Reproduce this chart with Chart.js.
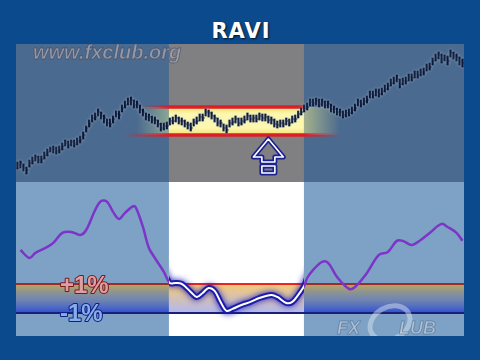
<!DOCTYPE html>
<html>
<head>
<meta charset="utf-8">
<script src="https://cdn.jsdelivr.net/npm/chart.js@4.4.1/dist/chart.umd.min.js"></script>
<style>
body { margin:0; width:480px; height:360px; background:#0c4a8e; overflow:hidden; position:relative; }
#title { position:absolute; left:0; width:482px; top:21px; text-align:center; color:#fff; font:bold 21px/21px "DejaVu Sans", sans-serif; letter-spacing:1px; text-shadow:1px 1px 2px rgba(0,0,0,.8); }
#price { position:absolute; left:16px; top:44px; }
#ravi { position:absolute; left:16px; top:182px; }
#site { position:absolute; left:33px; top:42px; font:italic bold 20px/20px "Liberation Sans", sans-serif; color:rgba(165,165,175,.8); -webkit-text-stroke:0.8px rgba(70,75,95,.7); }
</style>
</head>
<body>
<div id="title">RAVI</div>
<canvas id="price" width="448" height="138"></canvas>
<canvas id="ravi" width="448" height="154"></canvas>
<div id="site">www.fxclub.org</div>
<script>
// price bars, in points above the bottom of the price panel
const highs = [20,21,18,15,22,25,27,26,26,30, 33,35,36,35,36,39,42,41,42,42,
  44,46,50,56,62,67,69,73,70,67, 63,63,66,71,71,77,81,84,85,82,
  81,77,73,69,68,66,65,62,59,59, 60,64,65,67,65,64,62,60,59,63,
  65,68,68,73,72,70,67,64,62,58, 57,62,64,66,64,64,66,69,67,67,
  67,69,68,68,66,65,63,61,62,62, 64,63,66,67,71,74,77,79,83,83,
  84,83,83,81,81,78,76,74,73,71, 72,73,75,78,83,82,84,86,91,91,
  93,93,94,97,99,103,105,107,103,104, 105,108,108,111,111,113,114,118,119,124,
  128,130,128,127,126,132,130,128,125,123];
const lows = [13,14,11,8,15,18,21,19,19,23, 26,30,29,28,29,32,36,34,36,35,
  37,39,43,50,55,60,62,66,63,59, 56,55,59,65,63,70,74,77,77,74,
  74,69,66,62,61,59,58,55,51,52, 53,57,58,60,58,57,55,53,51,56,
  58,61,61,66,65,63,60,56,55,51, 49,55,57,59,56,57,59,62,60,60,
  60,62,61,61,59,58,55,54,55,55, 57,56,59,60,64,67,70,72,76,76,
  77,75,76,74,74,70,69,67,66,64, 65,66,68,71,76,75,77,79,84,84,
  86,85,87,90,92,96,98,100,94,97, 98,101,101,104,104,106,107,111,112,117,
  121,123,119,121,117,125,123,121,117,115];
const closes = [17,19,14,12,19,21,25,22,23,27, 30,33,33,31,32,36,39,37,40,38,
  41,42,47,54,58,64,65,70,66,64, 59,58,63,68,67,74,77,81,82,77,
  78,72,70,65,65,62,62,58,54,56, 56,61,61,64,61,61,58,57,54,60,
  61,65,64,70,69,66,64,59,59,54, 52,59,60,63,59,61,62,66,63,64,
  63,66,64,65,62,62,58,57,59,58, 61,59,63,63,68,70,74,75,80,79,
  81,78,80,77,78,73,73,70,70,67, 69,69,72,74,80,78,81,82,88,87,
  90,88,91,93,96,99,102,103,98,101, 101,105,104,108,107,110,110,115,115,121,
  124,127,123,124,121,129,126,125,120,119];

// RAVI, read where the curve bends
const raviDays = [1,4,6,10,12,15,18,21,23,26, 28,30,32,34,36,39,40,42,44,46,
  49,51,53,55,58,60,62,64,66,68, 70,72,75,78,81,85,87,90,92,94,
  96,97,99,102,104,107,111,113,117,121, 124,127,129,132,135,138,142,144,147,149];
const raviValues = [3.34,2.79,3.14,3.55,3.83,4.52,4.59,4.38,4.72,6.10,
  6.72,6.66,5.97,5.48,5.90,6.38,6.10,4.93,3.48,2.79,
  1.83,1.07,1.07,1.00,0.45,0.10,0.38,0.72,0.52,-0.24,
  -0.86,-0.72,-0.45,-0.24,0.03,0.24,0.10,-0.31,-0.24,0.24,
  0.86,1.41,1.97,2.52,2.45,1.48,0.66,0.79,1.76,3.00,
  3.21,3.97,3.97,3.69,4.03,4.52,5.14,4.93,4.52,3.97];

// flat period: RAVI stays inside the +/-1% channel
const bandStart = 50.7, bandEnd = 95.9;
const rangeHigh = 75, rangeLow = 47;
const upperLevel = 1, lowerLevel = -1;
const arrowDay = 84, arrowPrice = 26;

const days = closes.map((c, i) => i);
const navy = '#0b1838';

const xAxis = { type: 'linear', min: -0.5, max: 149.5, offset: false, display: false };
const layout = { padding: 0, autoPadding: false };

const priceBg = {
  id: 'priceBg',
  beforeDatasetsDraw(chart) {
    const { ctx, chartArea: a, scales: { x, y } } = chart;
    const b0 = x.getPixelForValue(bandStart), b1 = x.getPixelForValue(bandEnd);
    const yh = y.getPixelForValue(rangeHigh), yl = y.getPixelForValue(rangeLow);
    ctx.save();
    ctx.fillStyle = '#4b6a8f';
    ctx.fillRect(a.left, a.top, a.width, a.height);
    ctx.fillStyle = '#808083';
    ctx.fillRect(b0, a.top, b1 - b0, a.height);

    // glow going into and out of the range box
    let g = ctx.createLinearGradient(b0 - 32, 0, b0, 0);
    g.addColorStop(0, 'rgba(190,215,150,0)');
    g.addColorStop(1, 'rgba(190,215,150,0.55)');
    ctx.fillStyle = g;
    ctx.fillRect(b0 - 32, yh, 32, yl - yh);
    g = ctx.createLinearGradient(b1, 0, b1 + 36, 0);
    g.addColorStop(0, 'rgba(225,225,140,0.6)');
    g.addColorStop(1, 'rgba(225,225,140,0)');
    ctx.fillStyle = g;
    ctx.fillRect(b1, yh, 36, yl - yh);
    g = ctx.createLinearGradient(0, yh, 0, yl);
    g.addColorStop(0, '#f3df6a');
    g.addColorStop(0.25, '#fdf7b0');
    g.addColorStop(0.75, '#fdf7b0');
    g.addColorStop(1, '#f3df6a');
    ctx.fillStyle = g;
    ctx.fillRect(b0, yh, b1 - b0, yl - yh);

    // red range lines
    ctx.lineWidth = 3.5;
    g = ctx.createLinearGradient(b0 - 26, 0, b1, 0);
    g.addColorStop(0, 'rgba(220,30,40,0)');
    g.addColorStop(26 / (b1 - b0 + 26), 'rgba(220,30,40,1)');
    g.addColorStop(1, 'rgba(220,30,40,1)');
    ctx.strokeStyle = g;
    ctx.beginPath(); ctx.moveTo(b0 - 26, yh); ctx.lineTo(b1, yh); ctx.stroke();
    g = ctx.createLinearGradient(b0 - 46, 0, b1 + 36, 0);
    const w = b1 - b0 + 82;
    g.addColorStop(0, 'rgba(220,30,40,0)');
    g.addColorStop(46 / w, 'rgba(220,30,40,1)');
    g.addColorStop((w - 36) / w, 'rgba(220,30,40,1)');
    g.addColorStop(1, 'rgba(220,30,40,0)');
    ctx.strokeStyle = g;
    ctx.beginPath(); ctx.moveTo(b0 - 46, yl); ctx.lineTo(b1 + 36, yl); ctx.stroke();
    ctx.restore();

    // light halo round the bars
    ctx.save();
    ctx.shadowColor = 'rgba(200,215,235,0.6)';
    ctx.shadowBlur = 3;
  },
  afterDatasetsDraw(chart) {
    const { ctx, scales: { x, y } } = chart;
    ctx.restore();
    const cx = x.getPixelForValue(arrowDay), cy = y.getPixelForValue(arrowPrice);
    ctx.save();
    ctx.lineJoin = 'round';
    ctx.beginPath();
    ctx.moveTo(cx, cy - 17);
    ctx.lineTo(cx + 15, cy + 1);
    ctx.lineTo(cx + 6.5, cy + 1);
    ctx.lineTo(cx + 6.5, cy + 6);
    ctx.lineTo(cx - 6.5, cy + 6);
    ctx.lineTo(cx - 6.5, cy + 1);
    ctx.lineTo(cx - 15, cy + 1);
    ctx.closePath();
    ctx.rect(cx - 6.5, cy + 10, 13, 7);
    ctx.strokeStyle = '#1c2190';
    ctx.lineWidth = 5;
    ctx.stroke();
    ctx.strokeStyle = '#ffffff';
    ctx.lineWidth = 1.6;
    ctx.stroke();
    ctx.restore();
  }
};

new Chart(document.getElementById('price'), {
  type: 'bar',
  data: {
    datasets: [{
      data: days.map((d, i) => ({ x: d, y: [lows[i], highs[i]] })),
      backgroundColor: navy,
      barThickness: 1.5,
      grouped: false
    }, {
      type: 'line',
      data: days.map((d, i) => ({ x: d, y: closes[i] })),
      showLine: false,
      pointStyle: 'dash',
      pointRadius: 2,
      pointBorderWidth: 1.2,
      borderColor: navy,
      backgroundColor: navy
    }]
  },
  options: {
    responsive: false,
    animation: false,
    layout: layout,
    plugins: { legend: { display: false }, tooltip: { enabled: false } },
    scales: { x: xAxis, y: { min: 0, max: 138, display: false } }
  },
  plugins: [priceBg]
});

const raviBg = {
  id: 'raviBg',
  beforeDatasetsDraw(chart) {
    const { ctx, chartArea: a, scales: { x, y } } = chart;
    const b0 = x.getPixelForValue(bandStart), b1 = x.getPixelForValue(bandEnd);
    const yu = y.getPixelForValue(upperLevel), yd = y.getPixelForValue(lowerLevel);
    ctx.save();
    ctx.fillStyle = '#7ea2c6';
    ctx.fillRect(a.left, a.top, a.width, a.height);
    ctx.fillStyle = '#ffffff';
    ctx.fillRect(b0, a.top, b1 - b0, a.height);

    // channel between the two levels
    let g = ctx.createLinearGradient(0, yu, 0, yd);
    g.addColorStop(0, 'rgba(200,170,70,0.85)');
    g.addColorStop(0.5, 'rgba(110,120,160,0.6)');
    g.addColorStop(1, 'rgba(35,70,215,0.9)');
    ctx.fillStyle = g;
    ctx.fillRect(a.left, yu, b0 - a.left, yd - yu);
    ctx.fillRect(b1, yu, a.right - b1, yd - yu);
    g = ctx.createLinearGradient(0, yu, 0, yd);
    g.addColorStop(0, 'rgba(245,200,110,0.95)');
    g.addColorStop(1, 'rgba(170,175,240,0.9)');
    ctx.fillStyle = g;
    ctx.fillRect(b0, yu, b1 - b0, yd - yu);

    ctx.lineWidth = 2;
    ctx.strokeStyle = '#9c2b2b';
    ctx.beginPath(); ctx.moveTo(a.left, yu); ctx.lineTo(a.right, yu); ctx.stroke();
    ctx.strokeStyle = '#f0231a';
    ctx.beginPath(); ctx.moveTo(b0, yu); ctx.lineTo(b1, yu); ctx.stroke();
    ctx.strokeStyle = '#18207a';
    ctx.beginPath(); ctx.moveTo(a.left, yd); ctx.lineTo(a.right, yd); ctx.stroke();

    ctx.font = 'bold 24px "Liberation Sans", sans-serif';
    ctx.lineJoin = 'round';
    ctx.lineWidth = 2;
    ctx.strokeStyle = '#7a1818';
    ctx.fillStyle = '#dba0a4';
    ctx.strokeText('+1%', a.left + 44, yu + 9);
    ctx.fillText('+1%', a.left + 44, yu + 9);
    ctx.strokeStyle = '#102080';
    ctx.fillStyle = '#86aeea';
    ctx.strokeText('-1%', a.left + 44, yd + 8);
    ctx.fillText('-1%', a.left + 44, yd + 8);

    // FXCLUB mark
    ctx.globalAlpha = 0.5;
    ctx.strokeStyle = '#d6e0ee';
    ctx.lineWidth = 5;
    ctx.beginPath();
    ctx.ellipse(374, 141, 21, 16, -0.5, 0, Math.PI * 2);
    ctx.stroke();
    ctx.font = 'italic bold 18px "Liberation Sans", sans-serif';
    ctx.fillStyle = '#dde5f0';
    ctx.strokeStyle = '#46607e';
    ctx.lineWidth = 1;
    ctx.fillText('FX', 321, 152);
    ctx.strokeText('FX', 321, 152);
    ctx.fillText('LUB', 383, 152);
    ctx.strokeText('LUB', 383, 152);
    ctx.restore();
  },
  afterDatasetsDraw(chart) {
    const { ctx, chartArea: a, scales: { x } } = chart;
    const b0 = x.getPixelForValue(bandStart), b1 = x.getPixelForValue(bandEnd);
    const line = chart.getDatasetMeta(0).dataset;
    ctx.save();
    ctx.beginPath();
    ctx.rect(b0, a.top, b1 - b0, a.height);
    ctx.clip();
    ctx.lineJoin = 'round';
    ctx.lineCap = 'round';
    ctx.shadowColor = 'rgba(20,20,180,1)';
    ctx.shadowBlur = 6;
    ctx.strokeStyle = 'rgba(25,25,170,0.95)';
    ctx.lineWidth = 6;
    ctx.beginPath(); line.path(ctx); ctx.stroke();
    ctx.shadowBlur = 0;
    ctx.strokeStyle = '#ffffff';
    ctx.lineWidth = 2;
    ctx.beginPath(); line.path(ctx); ctx.stroke();
    ctx.restore();
  }
};

new Chart(document.getElementById('ravi'), {
  type: 'line',
  data: {
    datasets: [{
      data: raviDays.map((d, i) => ({ x: d, y: raviValues[i] })),
      borderColor: '#7c35c8',
      borderWidth: 2.5,
      tension: 0.35,
      pointRadius: 0
    }]
  },
  options: {
    responsive: false,
    animation: false,
    layout: layout,
    plugins: { legend: { display: false }, tooltip: { enabled: false } },
    scales: { x: xAxis, y: { min: -2.59, max: 8.03, display: false } }
  },
  plugins: [raviBg]
});
</script>
</body>
</html>
